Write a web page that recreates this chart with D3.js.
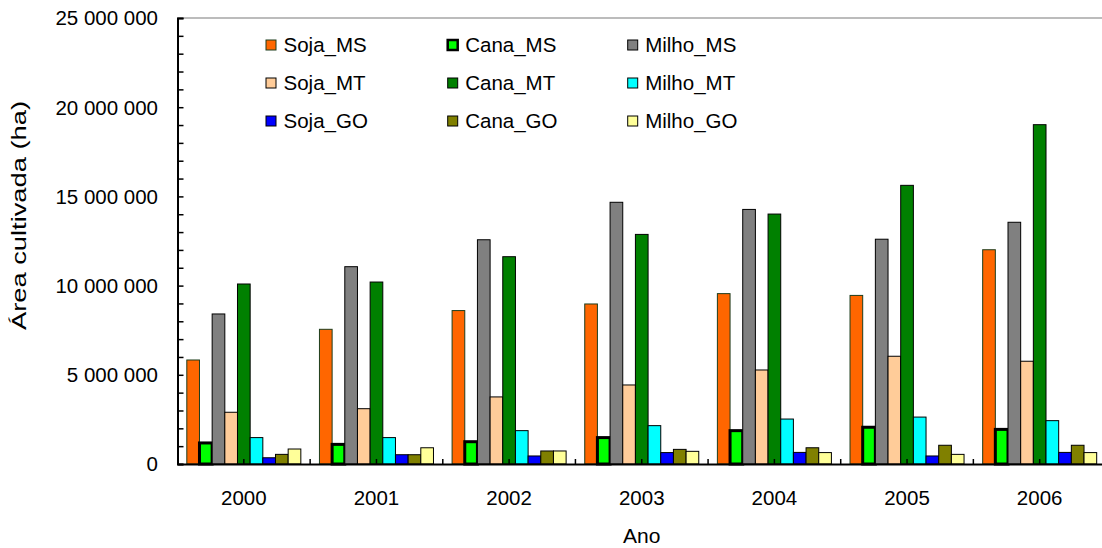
<!DOCTYPE html>
<html><head><meta charset="utf-8">
<script src="https://cdn.jsdelivr.net/npm/d3@7"></script>
<style>body{margin:0;background:#fff}svg{display:block}text{font-family:"Liberation Sans",Arial,sans-serif;fill:#000}</style>
</head><body><svg id="c" width="1102" height="548"></svg>
<script>
const years = ["2000","2001","2002","2003","2004","2005","2006"];
const seriesNames = ["Soja_MS","Cana_MS","Milho_MS","Soja_MT","Cana_MT","Milho_MT","Soja_GO","Cana_GO","Milho_GO"];
const seriesColors = ["#FF6600","#00FF00","#808080","#FFCC99","#008000","#00FFFF","#0000FF","#808000","#FFFF99"];
const Soja_MS  = [5830000,7550000,8600000,8970000,9550000,9450000,12010000];
const Cana_MS  = [1180000,1100000,1250000,1480000,1870000,2060000,1940000];
const Milho_MS = [8410000,11060000,12570000,14670000,14270000,12600000,13550000];
const Soja_MT  = [2900000,3100000,3760000,4430000,5270000,6040000,5760000];
const Cana_MT  = [10090000,10200000,11620000,12870000,14010000,15620000,19020000];
const Milho_MT = [1480000,1480000,1870000,2150000,2520000,2630000,2430000];
const Soja_GO  = [350000,520000,450000,640000,650000,450000,650000];
const Cana_GO  = [540000,520000,730000,820000,910000,1050000,1050000];
const Milho_GO = [840000,910000,730000,710000,640000,540000,640000];
const yTicks = [0,5000000,10000000,15000000,20000000,25000000];
const seriesValues = [Soja_MS,Cana_MS,Milho_MS,Soja_MT,Cana_MT,Milho_MT,Soja_GO,Cana_GO,Milho_GO];

const svg = d3.select("#c");
const L = 177.5, R = 1106, T = 18, B = 464;
const x0 = d3.scaleBand().domain(years).range([L, R]).padding(0);
const x1 = d3.scaleBand().domain(seriesNames).range([0, x0.bandwidth()]).paddingInner(0).paddingOuter(0.735);
const y = d3.scaleLinear().domain([0, 25000000]).range([B, T]);
const fmt = v => d3.format(",")(v).replace(/,/g, " ");

// top border
svg.append("line").attr("x1", L).attr("x2", 1102).attr("y1", T).attr("y2", T)
  .attr("stroke", "#a6a6a6").attr("stroke-width", 1.5);

// bars
seriesNames.forEach((s, si) => {
  const g = svg.append("g");
  g.selectAll("rect").data(years.map((yr, i) => ({yr, v: seriesValues[si][i]}))).join("rect")
    .attr("x", d => x0(d.yr) + x1(s))
    .attr("y", d => y(d.v))
    .attr("width", x1.bandwidth())
    .attr("height", d => B - y(d.v))
    .attr("fill", seriesColors[si])
    .attr("stroke", s === "Soja_MS" ? "#1d3d1d" : "#000")
    .attr("stroke-width", s === "Cana_MS" ? 3 : 1);
});

// y axis
const yAxis = d3.axisRight(y).tickValues(d3.range(0, 25000001, 1000000)).tickSize(6).tickFormat("");
const ya = svg.append("g").attr("transform", `translate(${L},0)`).call(yAxis);
ya.select(".domain").attr("stroke", "#000").attr("stroke-width", 2);
ya.selectAll(".tick line").attr("stroke", "#000").attr("stroke-width", 1.5);
svg.append("g").selectAll("text").data(yTicks).join("text")
  .attr("x", 158).attr("y", d => y(d)).attr("dy", "0.36em")
  .attr("text-anchor", "end").attr("font-size", 20.5).text(fmt);

// x axis
const xa = svg.append("g").attr("transform", `translate(0,${B})`)
  .call(d3.axisBottom(x0).tickSize(0).tickFormat(""));
xa.select(".domain").attr("stroke", "#000").attr("stroke-width", 2);
const tickPos = [];
years.forEach(yr => { tickPos.push(x0(yr)); tickPos.push(x0(yr) + x0.bandwidth() / 2); });
svg.append("g").selectAll("line").data(tickPos.slice(1)).join("line")
  .attr("x1", d => d).attr("x2", d => d).attr("y1", B).attr("y2", B - 5)
  .attr("stroke", "#000").attr("stroke-width", 1.5);
svg.append("g").selectAll("text").data(years).join("text")
  .attr("x", d => x0(d) + x0.bandwidth() / 2).attr("y", 505)
  .attr("text-anchor", "middle").attr("font-size", 20.5).text(d => d);

// axis titles
svg.append("text").attr("x", x0.range()[0] + (x0.range()[1] - x0.range()[0]) / 2).attr("y", 543)
  .attr("text-anchor", "middle").attr("font-size", 21).text("Ano");
svg.append("text").attr("transform", `translate(26,215.5) rotate(-90)`)
  .attr("text-anchor", "middle").attr("font-size", 20)
  .attr("textLength", 229).attr("lengthAdjust", "spacingAndGlyphs")
  .text("Área cultivada (ha)");

// legend
const colX = [266, 447.7, 627.7], rowY = [45, 83, 121];
seriesNames.forEach((s, i) => {
  const cx = colX[i % 3], cy = rowY[Math.floor(i / 3)];
  svg.append("rect").attr("x", cx).attr("y", cy - 5).attr("width", 10).attr("height", 10)
    .attr("fill", seriesColors[i])
    .attr("stroke", s === "Soja_MS" ? "#1d3d1d" : "#000")
    .attr("stroke-width", s === "Cana_MS" ? 2.5 : 1);
  svg.append("text").attr("x", cx + 17.5).attr("y", cy).attr("dy", "0.36em")
    .attr("font-size", 20.5).text(s);
});
</script></body></html>
